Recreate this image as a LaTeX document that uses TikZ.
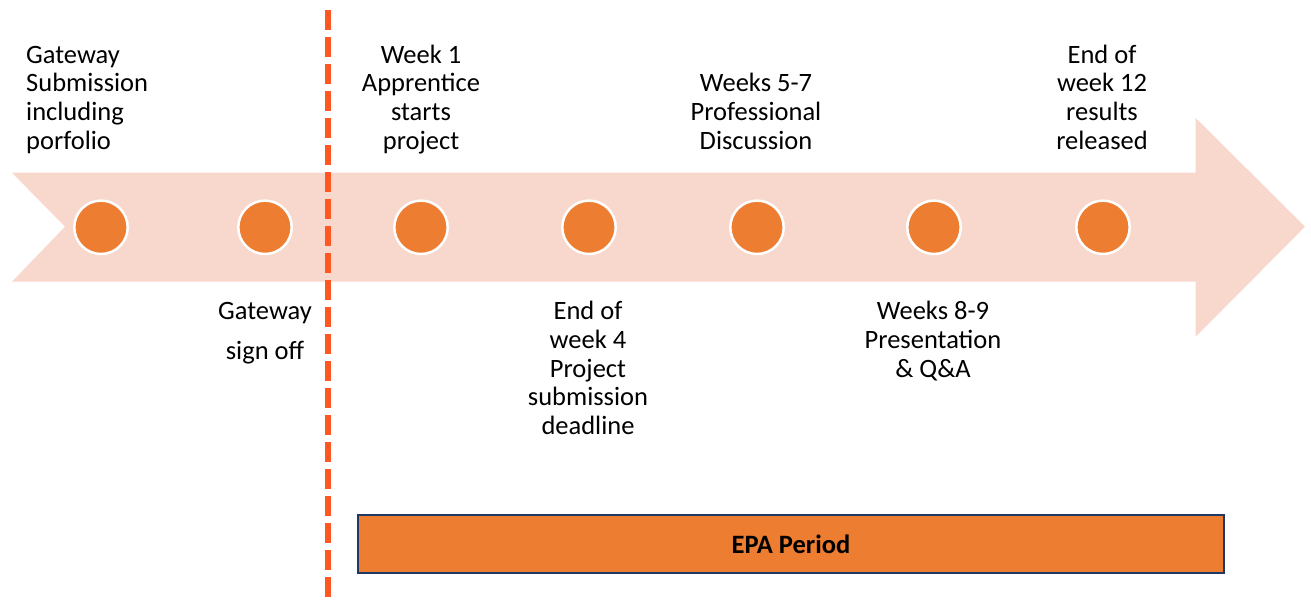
\documentclass[tikz,border=0pt]{standalone}
\usepackage{fontspec}
\setmainfont{Carlito}
\usepackage{tikz}

\definecolor{bandPeach}{HTML}{F8D8CD}
\definecolor{dotOrange}{HTML}{ED7D31}
\definecolor{cutRed}{HTML}{FF5722}
\definecolor{boxNavy}{HTML}{1F3864}

\begin{document}
\begin{tikzpicture}
[x=1pt,y=-1pt,
  dotDecorate/.style={shape=circle,minimum size=53.4pt,inner sep=0pt,fill=dotOrange,draw=white,line width=2.5pt},%
  labelDecorate/.style={inner sep=0pt,align=center,anchor=base,font=\fontsize{26.5}{28.7}\selectfont},%
  cutDecorate/.style={draw=cutRed,line width=6pt,dash pattern=on 20pt off 7pt}]
\useasboundingbox (0,0) rectangle (1311,601);
%% band arrow
\fill[bandPeach] (12,172.7) -- (1195.7,172.7) -- (1195.7,118) -- (1305,226.7)
  -- (1195.7,336.7) -- (1195.7,281.7) -- (12,281.7) -- (65,226.7) -- cycle;
%% milestones
\foreach \nodename/\x in {m1/101, m2/265, m3/421, m4/589, m5/757, m6/934, m7/1103} {
  \node (\nodename) at (\x,227.3) [dotDecorate] {};
}
%% gateway cut line
\coordinate (cutTop) at (328,10);
\coordinate (cutBottom) at (328,601);
\draw[cutDecorate] (cutTop) -- (cutBottom);
%% labels above (placed at last baseline)
\node (t1) at (26,149.4) [labelDecorate,anchor=base west,align=left]
  {Gateway\\Submission\\including\\porfolio};
\node (t3) at (421,149.4) [labelDecorate] {Week 1\\Apprentice\\starts\\project};
\node (t5) at (756,149.4) [labelDecorate] {Weeks 5-7\\Professional\\Discussion};
\node (t7) at (1102,149.4) [labelDecorate] {End of\\week 12\\results\\released};
%% labels below
\node (b2) at (265,359.3) [labelDecorate] {Gateway\\[11.3pt]sign off};
\node (b4) at (588,434.5) [labelDecorate] {End of\\week 4\\Project\\submission\\deadline};
\node (b6) at (933,377) [labelDecorate] {Weeks 8-9\\Presentation\\\& Q\&A};
%% period box
\node (epa) at (791,543.9) [shape=rectangle,minimum width=866pt,minimum height=57.7pt,
  fill=dotOrange,draw=boxNavy,line width=2pt,font=\fontsize{26.5}{29}\selectfont\bfseries] {EPA Period};
\end{tikzpicture}
\end{document}
